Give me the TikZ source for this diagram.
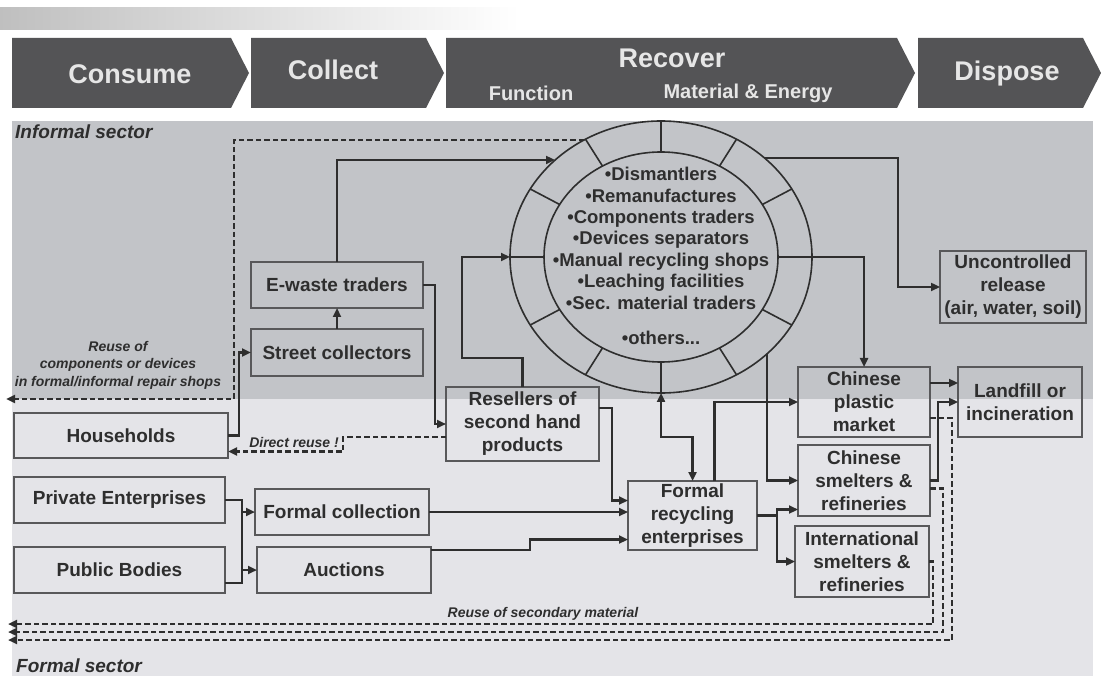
\documentclass[tikz,border=0pt]{standalone}
\usepackage{fontspec}
\setmainfont{Liberation Sans}
\usetikzlibrary{arrows.meta,shapes.geometric,calc}
\definecolor{bandc}{HTML}{545456}
\definecolor{bandtext}{HTML}{E6E6E6}
\definecolor{informalc}{HTML}{C2C4C8}
\definecolor{formalc}{HTML}{E4E4E8}
\definecolor{ink}{HTML}{2E2E2E}
\definecolor{boxc}{HTML}{58585A}
\begin{document}
\begin{tikzpicture}[x=1pt,y=-1pt,
  box/.style={draw=boxc, line width=1.6pt, text=ink, align=center, inner sep=0pt, outer sep=0pt, font=\bfseries\fontsize{19}{23}\selectfont},
  wire/.style={draw=ink, line width=2.3pt},
  flow/.style={wire, -{Triangle[length=9pt,width=8pt]}},
  back/.style={wire, dash pattern=on 5.5pt off 3pt, -{Triangle[length=9pt,width=8pt]}},
  note/.style={text=ink, font=\bfseries\itshape\fontsize{14}{17.5}\selectfont, align=center, inner sep=0pt},
  bandlabel/.style={text=bandtext, font=\bfseries\fontsize{27}{30}\selectfont, inner sep=0pt},
  sublabel/.style={text=bandtext, font=\bfseries\fontsize{20}{24}\selectfont, inner sep=0pt},
  ringline/.style={draw=ink, line width=1.6pt}
]
\useasboundingbox (0,0) rectangle (1101,676);
\fill[white] (0,0) rectangle (1101,676);
\shade[left color=black!25, right color=white] (0,8) rectangle (520,30);
% sector backgrounds
\fill[formalc] (12,121) rectangle (1093,676);
\fill[informalc] (12,121) rectangle (1093,399);
% banner
\fill[bandc] (12,38) -- (231,38) -- (249,73) -- (231,108) -- (12,108) -- cycle;
\fill[bandc] (251,38) -- (426,38) -- (444,73) -- (426,108) -- (251,108) -- cycle;
\fill[bandc] (446,38) -- (897,38) -- (915,73) -- (897,108) -- (446,108) -- cycle;
\fill[bandc] (918,38) -- (1083,38) -- (1101,73) -- (1083,108) -- (918,108) -- cycle;
\node[bandlabel] (consume) at (130,74) {Consume};
\node[bandlabel] (collect) at (333,70) {Collect};
\node[bandlabel] (recover) at (672,58) {Recover};
\node[sublabel] (function) at (531,93) {Function};
\node[sublabel] (material) at (748,93) {Material \& Energy};
\node[bandlabel] (dispose) at (1007,74) {Dispose};
% sector labels
\node[note, font=\bfseries\itshape\fontsize{19}{22}\selectfont, anchor=west] (informal) at (15,132) {Informal sector};
\node[note, font=\bfseries\itshape\fontsize{19}{22}\selectfont, anchor=west] (formal) at (16,666) {Formal sector};
% ring
\node[ellipse, draw=ink, line width=1.6pt, minimum width=302pt, minimum height=272pt, inner sep=0pt, outer sep=0pt] (ring) at (661,257) {};
\node[ellipse, draw=ink, line width=1.6pt, minimum width=234pt, minimum height=210pt, inner sep=0pt, outer sep=0pt] (core) at (661,257) {};
\foreach \a in {0,30,...,330}
  \draw[ringline] ({661+117*cos(\a)},{257-105*sin(\a)}) -- ({661+151*cos(\a)},{257-136*sin(\a)});
\node[text=ink, align=center, inner sep=0pt, font=\bfseries\fontsize{18.5}{21.4}\selectfont] (list) at (661,256)
 {•Dismantlers\\ •Remanufactures\\ •Components traders\\ •Devices separators\hspace*{28pt}\\ •Manual recycling shops\\ •Leaching facilities\hspace*{40pt}\\ •Sec. material traders\\[14pt] •others...};
% boxes
\node[box, minimum width=172pt, minimum height=46pt] (ewaste) at (337,285) {E-waste traders};
\node[box, minimum width=172pt, minimum height=47pt] (street) at (337,352.5) {Street collectors};
\node[box, minimum width=214pt, minimum height=45pt] (households) at (121,435.5) {Households};
\node[box, minimum width=153pt, minimum height=74pt] (resellers) at (522.5,424) {Resellers of\\second hand\\products};
\node[box, minimum width=211pt, minimum height=46pt] (private) at (119.5,500) {Private Enterprises};
\node[box, minimum width=211pt, minimum height=46pt] (public) at (119.5,570) {Public Bodies};
\node[box, minimum width=174pt, minimum height=46pt] (formalcol) at (342,512) {Formal collection};
\node[box, minimum width=174pt, minimum height=46pt] (auctions) at (344,570) {Auctions};
\node[box, minimum width=129pt, minimum height=69pt] (formalrec) at (692.5,515.5) {Formal\\recycling\\enterprises};
\node[box, minimum width=132pt, minimum height=70pt] (cplastic) at (864,402) {Chinese\\plastic\\market};
\node[box, minimum width=132pt, minimum height=71pt] (csmelt) at (864,480.5) {Chinese\\smelters \&\\refineries};
\node[box, minimum width=134pt, minimum height=71pt] (intsmelt) at (862,561.5) {International\\smelters \&\\refineries};
\node[box, minimum width=146pt, minimum height=72pt] (uncontrolled) at (1013,287) {Uncontrolled\\release\\(air, water, soil)};
\node[box, minimum width=124pt, minimum height=70pt] (landfill) at (1020,402) {Landfill or\\incineration};
% notes
\node[note] (reusecomp) at (118,365) {Reuse of\\components or devices\\in formal/informal repair shops};
\node[note] (directreuse) at (294,442) {Direct reuse !};
\node[note] (reusesec) at (543,614) {Reuse of secondary material};
% named points
\coordinate (pTop) at (584,140);
\coordinate (dA) at (234,140);
\coordinate (reuseL) at (6,399);
\coordinate (pE) at (555,160);
\coordinate (rA) at (462,358);
\coordinate (pUR) at (765,158);
\coordinate (uA) at (898,158);
\coordinate (pLR) at (767,354);
\coordinate (sec1) at (8,624);
\coordinate (sec2) at (8,632);
\coordinate (sec3) at (8,640);
% connectors
\draw[back] (pTop) -- (dA) |- (reuseL);
\draw[flow] (households.east) -- ++(11,0) |- (street.west);
\draw[flow] (street.north) -- (ewaste.south);
\draw[flow] (ewaste.north) |- (pE);
\draw[flow] (ewaste.east) -- ++(12,0) |- (resellers.west);
\draw[flow] (resellers.north) |- (rA) |- (ring.west);
\draw[flow] ($(resellers.east)+(0,-16)$) -- ++(13,0) |- ($(formalrec.west)+(0,-15)$);
\draw[back] ($(resellers.west)+(0,13)$) -- ++(-103,0) |- ($(households.east)+(0,16)$);
\draw[wire] (private.east) -- ++(17,0) coordinate (j1) -- ($(public.east)+(17,13)$) -- ($(public.east)+(0,13)$);
\draw[flow] (j1 |- formalcol.west) -- (formalcol.west);
\draw[flow] (j1 |- auctions.west) -- (auctions.west);
\draw[flow] (formalcol.east) -- (formalcol.east -| formalrec.west);
\draw[flow] ($(auctions.east)+(0,-20)$) -- ++(99,0) |- ($(formalrec.west)+(0,24)$);
\draw[wire, {Triangle[length=9pt,width=8pt]}-{Triangle[length=9pt,width=8pt]}] (ring.south) -- ++(0,44) -| (formalrec.north);
\draw[flow] ($(formalrec.north)+(22,0)$) |- (cplastic.west);
\draw[flow] (pLR) |- (csmelt.west);
\draw[wire] (formalrec.east) -- ++(20,0) coordinate (j2);
\draw[flow] ($(j2)+(0,1)$) |- ($(csmelt.west)+(0,29)$);
\draw[flow] ($(j2)+(0,-1)$) |- (intsmelt.west);
\draw[flow] (pUR) -- (uA) |- (uncontrolled.west);
\draw[flow] (ring.east) -| (cplastic.north);
\draw[flow] ($(cplastic.east)+(0,-19)$) -- ($(landfill.west)+(0,-19)$);
\draw[flow] (csmelt.east) -- ++(8,0) |- (landfill.west);
\draw[back] ($(cplastic.east)+(0,16)$) -- ++(22,0) |- (sec3);
\draw[back] ($(csmelt.east)+(0,8)$) -- ++(13,0) |- (sec2);
\draw[back] (intsmelt.east) -- ++(4,0) |- (sec1);
\end{tikzpicture}
\end{document}
